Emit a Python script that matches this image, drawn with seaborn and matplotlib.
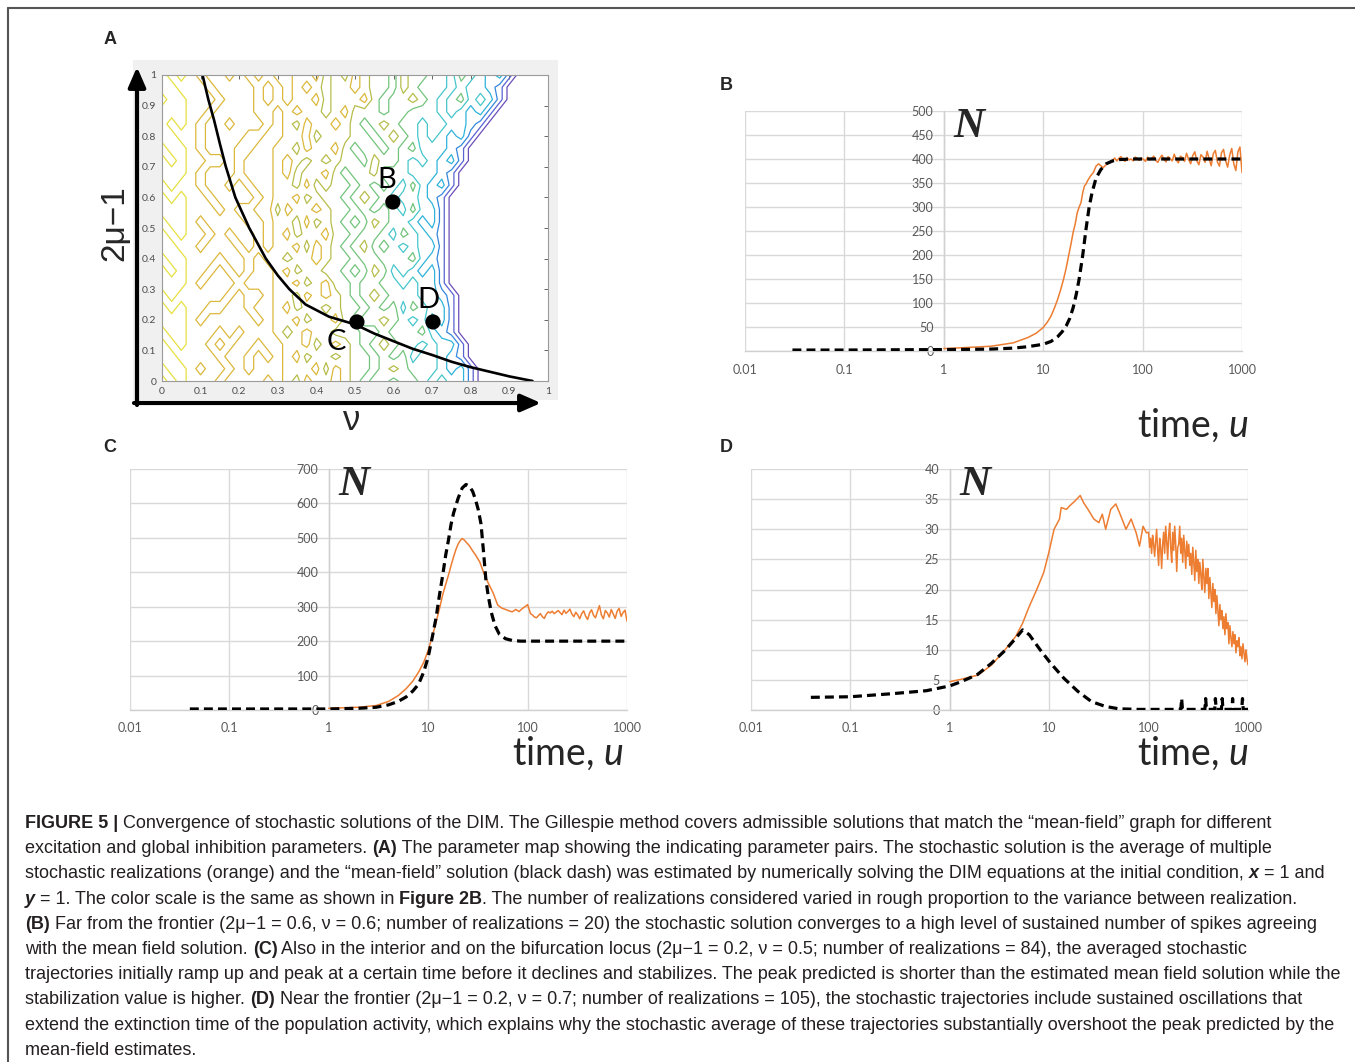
import numpy as np
import pandas as pd
import matplotlib
matplotlib.use('Agg')
import matplotlib.pyplot as plt
from matplotlib.patches import Rectangle, FancyArrowPatch
from matplotlib.lines import Line2D
from matplotlib.ticker import NullLocator
import seaborn as sns

# ---------------- data ----------------
a_ticks = [0, 0.1, 0.2, 0.3, 0.4, 0.5, 0.6, 0.7, 0.8, 0.9, 1]
a_tick_labels = ['0', '0.1', '0.2', '0.3', '0.4', '0.5', '0.6', '0.7', '0.8', '0.9', '1']
map_levels = [0.5, 1.5, 2.5, 3.5, 4.5, 5.5, 6.5, 7.5, 8.5]
# parameter-map values, rows from 2mu-1 = 1 (top) down to 0, columns nu = 0..1 (41 cols)
map_rows = [
    "989 87887878788 77867687 6657665 5465 434 2",
    "998 88788887878 78767787 665765 5545 443 2",
    "899 88878887878 77867778 656676 5456 454 2",
    "999 8878888778 78776786 665665 5545 434 2",
    "989 8788788878 7687787 656765 5455 443 2",
    "998 8788887788 7786777 665676 545 434 2",
    "899 878887788 7768778 656656 564 443 2",
    "989 887787888 7876767 665766 545 434 2",
    "999 878887888 786778 656675 554 443 2",
    "898 878878788 776867 665656 546 434 2",
    "989 887888878 778676 656765 455 43 2",
    "999 888787788 687787 665656 546 44 2",
    "899 878888778 776867 656576 554 34 2",
    "989 887878878 786778 665665 465 43 2",
    "998 878887878 778687 656756 545 44 2",
    "899 888788787 767787 665665 556 43 2",
    "989 887878788 786776 656576 454 34 2",
    "999 878887888 778678 665665 545 44 2",
    "898 888878778 7768787 656765 554 43 2",
    "989 887788788 7867767 665656 465 44 2",
    "999 878888878 7786778 656676 545 34 2",
    "899 888787888 7678776 665565 556 43 2",
    "989 8878788788 7786787 656765 545 44 2",
    "998 8887887878 7867767 665656 455 43 2",
    "899 8788787888 7778687 6656765 554 34 2",
    "989 8887888878 7687787 6566566 545 44 2",
]
locus_nu = [0.105, 0.12, 0.135, 0.15, 0.165, 0.19, 0.226, 0.269, 0.30, 0.33, 0.372, 0.433,
            0.50, 0.55, 0.60, 0.65, 0.70, 0.75, 0.80, 0.85, 0.90, 0.96]
locus_y = [1.0, 0.92, 0.852, 0.775, 0.702, 0.60, 0.50, 0.40, 0.345, 0.30, 0.25, 0.21,
           0.185, 0.155, 0.13, 0.105, 0.085, 0.063, 0.045, 0.03, 0.015, 0.0]
pt_names = ['B', 'C', 'D']
pt_nu = [0.598, 0.505, 0.702]
pt_y = [0.585, 0.193, 0.193]

time_ticks = [0.01, 0.1, 1, 10, 100, 1000]
time_labels = ['0.01', '0.1', '1', '10', '100', '1000']

# Panel B
b_yticks = [0, 50, 100, 150, 200, 250, 300, 350, 400, 450, 500]
b_black_t = [0.03, 0.1, 0.3, 1, 2, 3, 5, 7, 10, 12, 14, 15.5, 17, 18.5, 20, 21.5, 23, 25, 27, 29,
             31, 34, 38, 43, 50, 60, 80, 100, 300, 1000]
b_black_n = [2, 2, 2.5, 3, 3.5, 4, 6, 9, 14, 20, 30, 40, 52, 68, 90, 118, 150, 200, 255, 300,
             330, 360, 378, 390, 396, 399, 400, 400, 400, 400]
b_orange_t = [1, 2, 3, 5, 7, 8.5, 10, 11, 12, 13, 14, 15, 16, 17, 18, 19, 20, 21, 22, 23, 24,
              25, 26, 27, 28, 30, 32, 34, 36, 38, 40, 44, 48]
b_orange_n = [5, 8, 10, 17, 28, 37, 49, 60, 73, 90, 108, 128, 149, 172, 198, 222, 247, 265, 288,
              300, 309, 330, 344, 348, 355, 365, 372, 385, 390, 386, 382, 390, 396]
b_tail_range = (50, 1000)
b_tail_n = [398, 402, 396, 401, 405, 399, 395, 403, 398, 400, 396, 404, 401, 397, 402, 399,
            395, 404, 398, 401, 406, 397, 393, 402, 408, 399, 394, 405, 401, 396, 410, 398,
            392, 406, 403, 395, 412, 399, 390, 407, 415, 396, 388, 409, 404, 393, 416, 400,
            386, 411, 418, 394, 385, 413, 420, 397, 383, 408, 422, 390, 376, 415, 425, 372]

# Panel C
c_yticks = [0, 100, 200, 300, 400, 500, 600, 700]
c_black_t = [0.04, 0.1, 0.3, 1, 2, 3, 4, 5, 6, 7, 8, 9, 10, 11, 12, 13, 14, 15, 16, 17, 18, 20,
             22, 24, 26, 28, 30, 32, 34, 36, 38, 40, 43, 47, 52, 60, 70, 85, 100, 300, 1000]
c_black_n = [3, 3, 3, 3, 5, 8, 15, 25, 38, 55, 75, 110, 154, 212, 268, 335, 392, 450, 494, 540,
             572, 615, 645, 655, 650, 635, 610, 580, 540, 460, 380, 335, 285, 245, 220, 207, 202,
             200, 200, 200, 200]
c_orange_t = [1, 2, 3, 4, 5, 6, 7, 8, 9, 10, 11, 12, 13, 14, 15, 16, 17, 18, 19, 20, 21, 22, 23,
              24, 26, 28, 30, 33, 36, 40, 45, 50, 55, 60, 65, 70, 76, 82, 88, 94, 100]
c_orange_n = [5, 8, 13, 25, 42, 62, 84, 110, 138, 173, 214, 255, 295, 335, 365, 392, 420, 445,
              466, 482, 492, 498, 494, 488, 477, 462, 450, 430, 400, 370, 340, 305, 296, 292,
              288, 285, 292, 286, 294, 300, 306]
c_tail_range = (107, 1000)
c_tail_n = [280, 276, 270, 268, 274, 280, 271, 266, 278, 285, 282, 287, 280, 284, 289, 283,
            277, 290, 281, 286, 293, 279, 271, 284, 276, 265, 280, 288, 272, 263, 282, 291,
            275, 268, 286, 303, 276, 265, 289, 282, 270, 292, 279, 266, 287, 295, 272, 283,
            290, 258]

# Panel D
d_yticks = [0, 5, 10, 15, 20, 25, 30, 35, 40]
d_black_t = [0.04, 0.1, 0.26, 0.58, 1, 1.3, 1.9, 2.6, 3.6, 4.6, 5.4, 6.3, 8.1, 10.3, 14, 19.4,
             26.6, 36.6, 50, 80, 150, 211, 215, 219, 368, 375, 382, 462, 470, 478, 540, 550,
             560, 690, 700, 710, 865, 880, 895, 1000]
d_black_n = [2.1, 2.2, 2.7, 3.2, 4.0, 4.7, 5.9, 7.7, 9.9, 11.9, 13.3, 12.5, 10.0, 7.8, 5.3, 3.1,
             1.4, 0.6, 0.2, 0.1, 0.1, 0.1, 1.9, 0.1, 0.1, 1.9, 0.1, 0.1, 1.9, 0.1, 0.1, 1.9,
             0.1, 0.1, 1.9, 0.1, 0.1, 1.9, 0.1, 0.1]
d_orange_t = [1, 1.3, 1.93, 2.64, 3.6, 4.6, 5.4, 6.3, 7.5, 8.8, 9.9, 11.2, 12.7, 13.2, 14.9,
              16.1, 18.2, 20.5, 22.2, 25, 28.1, 31.6, 34.2, 37, 41.6, 46.8, 52.6, 59.2, 66.7,
              75, 81, 88, 95]
d_orange_n = [4.7, 5.1, 5.8, 7.5, 10, 12.2, 14.4, 17.2, 20, 22.8, 26.1, 30, 31.7, 33.6, 33.3,
              33.9, 34.7, 35.6, 34.4, 33.1, 31.7, 31.1, 32.5, 30, 33.3, 34.2, 32.2, 30, 31.7,
              29.4, 27.2, 30.5, 29.4]
d_tail_range = (100, 1000)
d_tail_n = [29.5, 27.0, 28.5, 26.0, 29.0, 27.5, 25.5, 28.0, 30.0, 26.5,
            24.0, 28.5, 27.0, 23.5, 27.5, 29.5, 26.0, 30.5, 28.0, 25.0,
            29.0, 31.0, 27.0, 24.5, 29.5, 26.5, 30.5, 27.5, 23.0, 27.0,
            27.5, 30.5, 26.0, 28.5, 24.5, 29.0, 26.5, 23.5, 28.0, 25.5,
            27.5, 24.0, 26.0, 22.5, 27.0, 24.5, 21.5, 26.5, 23.0, 25.0,
            21.0, 24.5, 22.5, 20.0, 25.0, 22.0, 19.5, 23.5, 21.0, 23.5,
            18.5, 22.0, 19.5, 17.0, 21.0, 18.0, 20.0, 16.0, 19.0, 16.5,
            14.0, 17.5, 15.0, 16.5, 13.5, 15.5, 12.5, 16.0, 13.5, 14.5,
            11.0, 14.0, 12.0, 10.5, 13.0, 11.0, 12.5, 9.5, 11.5, 10.5,
            12.0, 9.0, 10.5, 8.5, 11.0, 9.5, 8.0, 10.0, 8.5, 7.5]

caption_lines = [
    [("FIGURE 5 |", 'b'), (" Convergence of stochastic solutions of the DIM. The Gillespie method covers admissible solutions that match the \u201cmean-field\u201d graph for different", 'n')],
    [("excitation and global inhibition parameters. ", 'n'), ("(A)", 'b'), (" The parameter map showing the indicating parameter pairs. The stochastic solution is the average of multiple", 'n')],
    [("stochastic realizations (orange) and the \u201cmean-field\u201d solution (black dash) was estimated by numerically solving the DIM equations at the initial condition, ", 'n'), ("x", 'bi'), (" = 1 and", 'n')],
    [("y", 'bi'), (" = 1. The color scale is the same as shown in ", 'n'), ("Figure 2B", 'b'), (". The number of realizations considered varied in rough proportion to the variance between realization.", 'n')],
    [("(B)", 'b'), (" Far from the frontier (2\u03bc\u22121 = 0.6, \u03bd = 0.6; number of realizations = 20) the stochastic solution converges to a high level of sustained number of spikes agreeing", 'n')],
    [("with the mean field solution. ", 'n'), ("(C)", 'b'), (" Also in the interior and on the bifurcation locus (2\u03bc\u22121 = 0.2, \u03bd = 0.5; number of realizations = 84), the averaged stochastic", 'n')],
    [("trajectories initially ramp up and peak at a certain time before it declines and stabilizes. The peak predicted is shorter than the estimated mean field solution while the", 'n')],
    [("stabilization value is higher. ", 'n'), ("(D)", 'b'), (" Near the frontier (2\u03bc\u22121 = 0.2, \u03bd = 0.7; number of realizations = 105), the stochastic trajectories include sustained oscillations that", 'n')],
    [("extend the extinction time of the population activity, which explains why the stochastic average of these trajectories substantially overshoot the peak predicted by the", 'n')],
    [("mean-field estimates.", 'n')],
]

# ---------------- style ----------------
sns.set_style('white')
plt.rcParams['font.family'] = ['Lato', 'DejaVu Sans']
plt.rcParams['mathtext.fontset'] = 'custom'
plt.rcParams['mathtext.rm'] = 'Lato'
plt.rcParams['mathtext.it'] = 'Lato:italic'

W, H = 1355, 1062
fig = plt.figure(figsize=(W / 100, H / 100), dpi=100)
fig.patch.set_facecolor('white')


def fx(px):
    return px / W


def fy(py):
    return 1 - py / H


level_colors = ['#6a4fb8', '#5a62d2', '#3488dc', '#2fb3da', '#45c6cc', '#72c47c',
                '#b6bd4a', '#dcb83c', '#e6e040']

# ---------------- outer frame ----------------
fig.add_artist(Line2D([fx(8), 1.0], [fy(8), fy(8)], transform=fig.transFigure, color='#555555', lw=1.5))
fig.add_artist(Line2D([fx(8), fx(8)], [fy(8), 0.0], transform=fig.transFigure, color='#555555', lw=1.5))

# ---------------- panel A ----------------
fig.add_artist(Rectangle((fx(133), fy(400)), fx(558) - fx(133), fy(60) - fy(400),
                         transform=fig.transFigure, facecolor='#f0f0f0', edgecolor='none', zorder=-1))
axA = fig.add_axes([fx(162), fy(381), fx(548) - fx(162), fy(75) - fy(381)])
axA.set_facecolor('white')
Z = np.array([[float(c) for c in (r.replace(' ', '') + '0' * 41)[:41]] for r in map_rows[::-1]])
nu_grid = np.linspace(0, 1, Z.shape[1])
y_grid = np.linspace(0, 1, Z.shape[0])
axA.contour(nu_grid, y_grid, Z, levels=map_levels, colors=level_colors, linewidths=0.9)
sns.lineplot(x=locus_nu, y=locus_y, ax=axA, color='black', lw=1.9, estimator=None, sort=False)
sns.scatterplot(x=pt_nu, y=pt_y, ax=axA, color='black', s=120, edgecolor='none', zorder=6)
lab_off = {'B': (-0.015, 0.072), 'C': (-0.052, -0.066), 'D': (-0.013, 0.072)}
for name, xv, yv in zip(pt_names, pt_nu, pt_y):
    dx, dy = lab_off[name]
    axA.text(xv + dx, yv + dy, name, fontsize=21, ha='center', va='center', color='black', zorder=7)
axA.set_xlim(0, 1)
axA.set_ylim(0, 1)
axA.set_xticks(a_ticks)
axA.set_xticklabels(a_tick_labels)
axA.set_yticks(a_ticks)
axA.set_yticklabels(a_tick_labels)
axA.tick_params(direction='in', length=3, top=True, right=True, labelsize=7.5,
                colors='#4d4d4d', pad=4, width=0.6)
for s in axA.spines.values():
    s.set_color('#9a9a9a')
    s.set_linewidth(0.8)

fig.add_artist(FancyArrowPatch((fx(137), fy(405)), (fx(137), fy(67)), transform=fig.transFigure,
                               arrowstyle='-|>,head_length=0.8,head_width=0.35', mutation_scale=15,
                               lw=3, color='black', shrinkA=0, shrinkB=0, zorder=5))
fig.add_artist(FancyArrowPatch((fx(134), fy(403)), (fx(541), fy(403)), transform=fig.transFigure,
                               arrowstyle='-|>,head_length=0.8,head_width=0.35', mutation_scale=15,
                               lw=3, color='black', shrinkA=0, shrinkB=0, zorder=5))
fig.text(fx(115), fy(223), '2\u03bc\u22121', rotation=90, fontsize=24, ha='center', va='center',
         family=['Liberation Sans', 'DejaVu Sans'])
fig.text(fx(352), fy(420), '\u03bd', fontsize=25, ha='center', va='center',
         family=['Liberation Sans', 'DejaVu Sans'])


# ---------------- Excel-style panels ----------------
def excel_panel(rect, yticks, o_t, o_n, tail_rng, tail_n, k_t, k_n):
    ax = fig.add_axes(rect)
    ax.set_facecolor('white')
    ax.set_xscale('log')
    t_all = list(o_t) + list(np.geomspace(tail_rng[0], tail_rng[1], len(tail_n)))
    n_all = list(o_n) + list(tail_n)
    sns.lineplot(x=t_all, y=n_all, ax=ax, color='#ED7D31', lw=1.1, estimator=None, sort=False, zorder=3)
    sns.lineplot(x=k_t, y=k_n, ax=ax, color='black', lw=2.3, estimator=None, sort=False, zorder=4)
    ax.lines[-1].set_dashes([2.8, 1.6])
    ax.set_xlim(time_ticks[0], time_ticks[-1])
    ax.set_ylim(yticks[0], yticks[-1])
    ax.set_xticks(time_ticks)
    ax.set_xticklabels(time_labels)
    ax.xaxis.set_minor_locator(NullLocator())
    ax.set_yticks(yticks)
    ax.set_yticklabels([str(v) for v in yticks])
    ax.grid(True, color='#d9d9d9', lw=1.0)
    ax.set_axisbelow(True)
    ax.spines['top'].set_visible(False)
    ax.spines['right'].set_visible(False)
    ax.spines['left'].set_position(('data', 1))
    ax.spines['left'].set_color('#d0d0d0')
    ax.spines['bottom'].set_color('#d0d0d0')
    ax.spines['left'].set_linewidth(1.0)
    ax.spines['bottom'].set_linewidth(1.0)
    ax.tick_params(axis='x', length=0, labelsize=9, labelcolor='#595959', pad=9)
    ax.tick_params(axis='y', length=0, labelsize=9, labelcolor='#595959', pad=7.5)
    ax.annotate('N', xy=(1, 1), xycoords=('data', 'axes fraction'), xytext=(7, 2),
                textcoords='offset points', ha='left', va='top', fontsize=31,
                family='Liberation Serif', weight='bold', style='italic', zorder=8)
    return ax


excel_panel([fx(745), fy(351), fx(1242) - fx(745), fy(111) - fy(351)], b_yticks,
            b_orange_t, b_orange_n, b_tail_range, b_tail_n, b_black_t, b_black_n)
excel_panel([fx(130), fy(710), fx(627) - fx(130), fy(469) - fy(710)], c_yticks,
            c_orange_t, c_orange_n, c_tail_range, c_tail_n, c_black_t, c_black_n)
excel_panel([fx(751), fy(710), fx(1248) - fx(751), fy(469) - fy(710)], d_yticks,
            d_orange_t, d_orange_n, d_tail_range, d_tail_n, d_black_t, d_black_n)

for xr, yb in [(1248, 437), (623, 765), (1248, 765)]:
    fig.text(fx(xr), fy(yb), 'time, $u$', fontsize=27, ha='right', va='baseline', family='Lato')

for lab, xp, yp in [('A', 110, 39), ('B', 726, 86), ('C', 110, 448), ('D', 726, 448)]:
    fig.text(fx(xp), fy(yp), lab, fontsize=13, weight='bold', ha='center', va='center',
             family=['Liberation Sans', 'DejaVu Sans'])

# ---------------- caption ----------------
renderer = fig.canvas.get_renderer()
cap_family = ['Liberation Sans Narrow', 'Liberation Sans', 'DejaVu Sans']
style_map = {'n': ('normal', 'normal'), 'b': ('bold', 'normal'), 'bi': ('bold', 'italic')}


def seg_width(text, size, kind):
    wgt, sty = style_map[kind]
    t = fig.text(0, 0, text + '|', fontsize=size, fontweight=wgt, fontstyle=sty, family=cap_family)
    w1 = t.get_window_extent(renderer).width
    t.set_text('|')
    w2 = t.get_window_extent(renderer).width
    t.remove()
    return w1 - w2


ref_w = sum(seg_width(s, 10, k) for s, k in caption_lines[8])
cap_size = 10 * (1340 - 25) / ref_w
cap_size = min(cap_size, 14.5)
for i, line in enumerate(caption_lines):
    xpx = 25.0
    ybase = 828 + i * 25.2
    for s, k in line:
        wgt, sty = style_map[k]
        fig.text(fx(xpx), fy(ybase), s, fontsize=cap_size, fontweight=wgt, fontstyle=sty,
                 family=cap_family, va='baseline', ha='left', color='#231f20')
        xpx += seg_width(s, cap_size, k)

fig.savefig('out.png', dpi=100, facecolor='white')
